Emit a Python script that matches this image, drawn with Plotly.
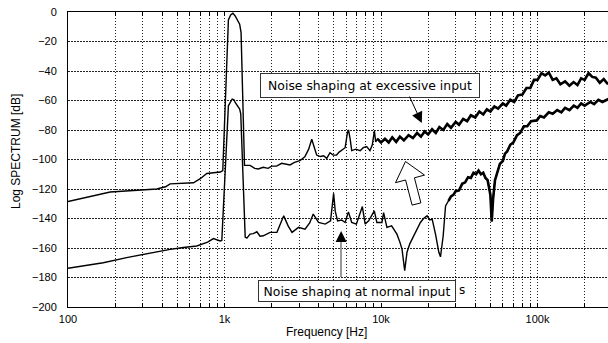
import math
import plotly.graph_objects as go

# ---------------- data ----------------
excess_freq = [100, 186, 369, 420, 449, 633, 700, 771, 940, 975,
               1059, 1095, 1131, 1170, 1250, 1276, 1342, 1457, 1560, 1644,
               1767, 1900, 2000, 2150, 2320, 2450, 2620, 2800, 3030, 3260,
               3450, 3610, 3750, 3880, 4100, 4300, 4500, 4720, 4950, 5200,
               5400, 5600, 5900, 6100, 6200, 6350, 6500, 6900, 7360, 7700,
               8100, 8500, 8800, 9070, 9250, 9500,
               10000, 10600, 11200, 11800, 12500, 13200, 14000, 15000, 16000, 17000,
               18000, 19000, 20000, 21200, 22400, 23600, 25000, 26500, 28000, 30000,
               31500, 33500, 35500, 37500, 40000, 42500, 45000, 47500, 50000, 53000,
               56000, 60000, 63000, 67000, 71000, 75000, 80000, 85000, 90000, 95000,
               100000, 106000, 112000, 118000, 125000, 132000, 140000, 150000, 160000, 170000,
               180000, 190000, 200000, 212000, 224000, 236000, 250000, 265000, 282000]
excess_db = [-128.5, -122, -120, -118.5, -116.5, -115.8, -113, -109.5, -108.5, -107.5,
             -5.4, -2, -0.8, -2.7, -8.3, -14, -104, -104, -106, -106.4,
             -105.3, -106, -104.5, -104.5, -102.6, -103, -103.7, -102, -100.8, -98.1,
             -93, -86.3, -92, -97, -98, -97.5, -99.2, -95.4, -97, -97,
             -95, -93.6, -92, -82, -80, -86, -94, -93, -94, -92,
             -91.3, -94, -90, -80.5, -88, -86,
             -88.5, -86, -88.5, -85, -88, -84.5, -87, -83.5, -85.5, -82,
             -84.5, -81, -83, -79.5, -82, -78, -80, -76, -78.5, -74.5,
             -76.5, -72.5, -74, -70, -71.5, -67.5, -69.5, -66, -67.5, -64,
             -65.5, -62, -63.5, -59.5, -61, -56.5, -56, -51.5, -51.5, -46,
             -46, -41.5, -43, -41, -46, -45, -49, -47, -50, -47.5,
             -49.5, -45, -46, -41.5, -44, -44.5, -48, -45.5, -49]

normal_freq = [100, 168, 237, 319, 449, 546, 665, 780, 850, 937, 961,
               1059, 1095, 1120, 1150, 1170, 1250, 1270, 1356, 1390, 1457,
               1527, 1610, 1687, 1770, 1862, 1956, 2163, 2260, 2390, 2550,
               2700, 2970, 3270, 3500, 3690, 3990, 4400, 4760, 4880, 4980,
               5100, 5280, 5600, 5900, 6190, 6500, 6960, 7300, 7600, 7920,
               8340, 9060, 9410, 10140, 10390, 10910, 11690, 12200, 12640, 13200,
               13620, 14170, 14660, 15300, 16170, 16900, 17860, 18700, 19700, 20500,
               21230, 22300, 23420, 24000, 24500, 24970, 25850, 27000,
               28000, 29000, 30000, 31500, 33000, 34500, 36000, 37500, 39000, 40500,
               42000, 43500, 45000, 46500, 48000, 49000, 50000, 51000, 52000, 53500,
               55300, 57500, 60000, 62000, 64000, 67000, 70000, 74000, 77500, 82000,
               86000, 91000, 99000, 104000, 110000, 118000, 125000, 133700, 142000, 150000,
               160000, 170600, 180000, 190000, 200000, 217500, 230000, 245000, 260000, 284000]
normal_db = [-173.7, -170, -166.5, -163.8, -160.9, -159.7, -158.6, -156, -153.6, -155.2, -154.9,
             -63.6, -60.2, -59, -59.5, -61.3, -65.8, -69, -152.6, -153.3, -150.6,
             -150.3, -149, -152, -151.7, -150.3, -149.4, -149.4, -144.7, -138.2, -145,
             -149.4, -146, -147.2, -143, -137, -142.7, -143.8, -141.6, -130, -123,
             -135, -141.6, -141, -142.7, -135.5, -142.7, -143.8, -138, -131.9, -143.8,
             -141.6, -134.8, -142.7, -142.7, -136, -146, -145, -148, -150.6, -156,
             -160.7, -175.3, -162.9, -157, -151.7, -147, -142.7, -140, -138.2, -141,
             -140.4, -150.6, -162.9, -166, -160, -151.7, -131.5, -128,
             -125, -124, -121.5, -121, -116.5, -115.5, -112, -112.5, -109, -110,
             -107.5, -110, -109, -112.5, -114, -119, -124, -142, -127, -114,
             -109.4, -103, -101, -96, -94.5, -90, -88.5, -83.5, -82, -77.5,
             -77.5, -74, -73.5, -70.5, -71.5, -68, -69, -66.5, -68, -65,
             -66.5, -63.5, -65, -62, -63.5, -61, -62.5, -59.5, -61, -59]

# frequency above which each spectrum is a dense noise band
excess_band_from = 9500
normal_band_from = 27000

x_tick_vals = [100, 1000, 10000, 100000]
x_tick_text = ["100", "1k", "10k", "100k"]
x_minor_vals = [m * 10 ** e for e in range(2, 6) for m in range(2, 10)]

label_excess = "Noise shaping at excessive input"
label_normal = "Noise shaping at normal input"
x_title = "Frequency [Hz]"
y_title = "Log SPECTRUM [dB]"

# arrow targets (data units)
excess_arrow = (18230, -75.3)
normal_arrow = (5560, -148.5)

# ---------------- figure ----------------
W, H = 608, 343
L, R, T, B = 68, 0, 12, 36
PW, PH = W - L - R, H - T - B


def px(xp):
    return (xp - L) / PW


def py(yp):
    return (H - B - yp) / PH


def band(freqs, dbs, f0):
    pairs = [(f, d) for f, d in zip(freqs, dbs) if f >= f0]
    return [p[0] for p in pairs], [p[1] for p in pairs]


fig = go.Figure()
fig.add_trace(go.Scatter(x=excess_freq, y=excess_db, mode="lines",
                         line=dict(color="black", width=1.4), showlegend=False))
fig.add_trace(go.Scatter(x=normal_freq, y=normal_db, mode="lines",
                         line=dict(color="black", width=1.4), showlegend=False))
bx, by = band(excess_freq, excess_db, excess_band_from)
fig.add_trace(go.Scatter(x=bx, y=by, mode="lines",
                         line=dict(color="black", width=2.6), showlegend=False))
bx, by = band(normal_freq, normal_db, normal_band_from)
fig.add_trace(go.Scatter(x=bx, y=by, mode="lines",
                         line=dict(color="black", width=2.6), showlegend=False))

grid_col = "#222222"
fig.update_layout(
    width=W, height=H,
    margin=dict(l=L, r=R, t=T, b=B),
    paper_bgcolor="white", plot_bgcolor="white",
    font=dict(family="Liberation Sans", size=11, color="black"),
    xaxis=dict(
        type="log", range=[2, 2 + PW / 156.5],
        tickmode="array", tickvals=x_tick_vals, ticktext=x_tick_text,
        ticks="inside", ticklen=4, tickcolor="black",
        showgrid=True, gridcolor=grid_col, griddash="1px,2px", gridwidth=1,
        showline=True, linecolor="black", linewidth=1, mirror="ticks",
        minor=dict(tickvals=x_minor_vals, ticks="inside", ticklen=4,
                   tickcolor="black", showgrid=True, gridcolor=grid_col,
                   griddash="1px,2px", gridwidth=1),
        zeroline=False, ticklabelstandoff=2,
    ),
    yaxis=dict(
        range=[-200, 0], tick0=0, dtick=20,
        showgrid=True, gridcolor=grid_col, griddash="2px,1px", gridwidth=1,
        showline=True, linecolor="black", linewidth=1,
        ticks="", zeroline=False, ticklabelstandoff=8,
    ),
)

annos = []
# text boxes
annos.append(dict(xref="paper", yref="paper", x=px(260), y=py(73),
                  xanchor="left", yanchor="top", text=label_excess, showarrow=False,
                  font=dict(family="DejaVu Sans", size=12.4, color="black"),
                  bgcolor="white", bordercolor="#333", borderwidth=1, borderpad=3,
                  width=212, height=17))
annos.append(dict(xref="paper", yref="paper", x=px(258), y=py(280),
                  xanchor="left", yanchor="top", text=label_normal, showarrow=False,
                  font=dict(family="DejaVu Sans", size=12.4, color="black"),
                  bgcolor="white", bordercolor="#333", borderwidth=1, borderpad=3,
                  width=190, height=14))
annos.append(dict(xref="paper", yref="paper", x=px(457), y=py(290),
                  xanchor="left", yanchor="middle", text="s", showarrow=False,
                  font=dict(family="DejaVu Sans", size=12, color="black")))
# arrows
annos.append(dict(x=math.log10(excess_arrow[0]), y=excess_arrow[1], xref="x", yref="y",
                  text="", showarrow=True, ax=-13, ay=-28, arrowhead=2, arrowsize=2.2,
                  arrowwidth=1, arrowcolor="black", standoff=0))
annos.append(dict(x=math.log10(normal_arrow[0]), y=normal_arrow[1], xref="x", yref="y",
                  text="", showarrow=True, ax=0, ay=9, arrowhead=2, arrowsize=2.2,
                  arrowwidth=1, arrowcolor="black", standoff=0))
# axis titles
annos.append(dict(xref="paper", yref="paper", x=px(326), y=py(332),
                  xanchor="center", yanchor="middle", text=x_title, showarrow=False,
                  font=dict(family="Liberation Sans", size=12, color="black")))
annos.append(dict(xref="paper", yref="paper", x=px(16), y=py(152),
                  xanchor="center", yanchor="middle", text=y_title, showarrow=False,
                  textangle=-90,
                  font=dict(family="Liberation Sans", size=12, color="black")))
fig.update_layout(annotations=annos)

# gray shaft of the lower arrow
fig.add_shape(type="line", xref="paper", yref="paper",
              x0=px(341), x1=px(341), y0=py(277), y1=py(238),
              line=dict(color="#999999", width=2))
# hollow arrow (tilted, pointing up)
pts = [(405.5, 161.5), (424.5, 175.1), (414.4, 177.8), (420.9, 202.9),
       (412.1, 205.1), (405.6, 180.0), (395.5, 182.7)]
path = "M " + " L ".join(f"{px(a):.4f},{py(b):.4f}" for a, b in pts) + " Z"
fig.add_shape(type="path", xref="paper", yref="paper", path=path,
              fillcolor="white", line=dict(color="black", width=1), layer="above")

fig.write_html("out.html")
